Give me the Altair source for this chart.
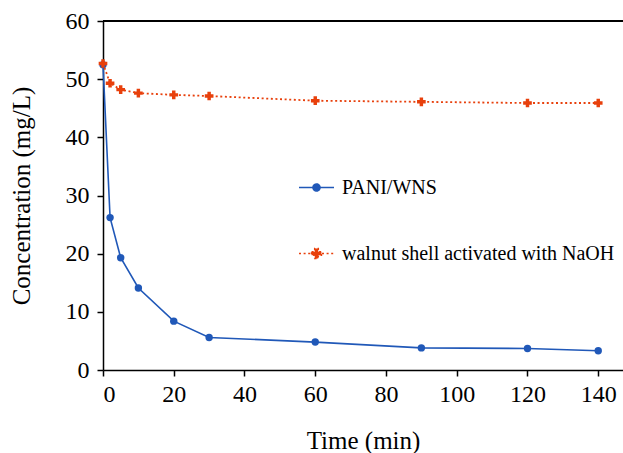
import altair as alt
import pandas as pd

time_pani = [0, 2, 5, 10, 20, 30, 60, 90, 120, 140]
conc_pani = [52.5, 26.2, 19.3, 14.1, 8.4, 5.6, 4.8, 3.8, 3.7, 3.3]
time_wns = [0, 2, 5, 10, 20, 30, 60, 90, 120, 140]
conc_wns = [52.7, 49.3, 48.2, 47.6, 47.3, 47.1, 46.3, 46.1, 45.9, 45.9]
series_names = ["PANI/WNS", "walnut shell activated with NaOH"]
series_colors = ["#2058B8", "#E8400C"]
x_ticks = [0, 20, 40, 60, 80, 100, 120, 140]
y_ticks = [0, 10, 20, 30, 40, 50, 60]

df_p = pd.DataFrame({"t": time_pani, "c": conc_pani, "s": series_names[0]})
df_w = pd.DataFrame({"t": time_wns, "c": conc_wns, "s": series_names[1]})

FONT = "Liberation Serif"
xs = alt.Scale(domain=[0, 147], nice=False)
ys = alt.Scale(domain=[0, 60], nice=False)

pani_path = "M-1,0L1,0M0.2,0A0.2,0.2,0,1,1,-0.2,0A0.2,0.2,0,1,1,0.2,0Z"
wns_path = ("M-1,0L1,0M-0.28,-0.1L-0.1,-0.1L-0.1,-0.28L0.1,-0.28L0.1,-0.1L0.28,-0.1"
            "L0.28,0.1L0.1,0.1L0.1,0.28L-0.1,0.28L-0.1,0.1L-0.28,0.1Z")


def mk_legend(i, path, dash, ly):
    return alt.Legend(
        title=None, orient="none", legendX=195, legendY=ly,
        labelFont=FONT, labelFontSize=20, labelColor="black", labelOffset=7,
        labelLimit=400,
        symbolSize=1225, symbolStrokeWidth=1.6, symbolType=path,
        symbolFillColor=series_colors[i], symbolStrokeColor=series_colors[i],
        symbolDash=dash, symbolOpacity=1,
    )


x_enc = alt.X("t:Q", scale=xs, title="Time (min)",
              axis=alt.Axis(values=x_ticks, grid=False, tickSize=6, labelPadding=6,
                            titlePadding=22))
y_enc = alt.Y("c:Q", scale=ys, title="Concentration (mg/L)",
              axis=alt.Axis(values=y_ticks, grid=False, tickSize=6, labelPadding=8,
                            titlePadding=31))

pani_line = alt.Chart(df_p).mark_line(strokeWidth=1.6).encode(
    x=x_enc, y=y_enc,
    color=alt.Color("s:N", scale=alt.Scale(domain=[series_names[0]], range=[series_colors[0]]),
                    legend=mk_legend(0, pani_path, [1, 0], 148)),
)
pani_pts = alt.Chart(df_p).mark_point(filled=True, opacity=1, shape="circle", size=55,
                                      color=series_colors[0]).encode(
    x=alt.X("t:Q", scale=xs), y=alt.Y("c:Q", scale=ys))

wns_line = alt.Chart(df_w).mark_line(strokeWidth=1.8, strokeDash=[2, 2.6]).encode(
    x=alt.X("t:Q", scale=xs), y=alt.Y("c:Q", scale=ys),
    stroke=alt.Stroke("s:N", scale=alt.Scale(domain=[series_names[1]], range=[series_colors[1]]),
                      legend=mk_legend(1, wns_path, [2, 2.6], 214)),
)
wns_pts = alt.Chart(df_w).mark_point(filled=True, opacity=1, shape="cross", size=75,
                                     color=series_colors[1]).encode(
    x=alt.X("t:Q", scale=xs), y=alt.Y("c:Q", scale=ys))

top = alt.Chart(df_p).mark_rule(color="black", strokeWidth=1.5).encode(y=alt.datum(60, scale=ys))

chart = alt.layer(pani_line, pani_pts, wns_line, wns_pts, top).properties(
    width=520, height=349,
    autosize=alt.AutoSizeParams(type="none"),
    padding={"left": 103, "top": 21, "right": 0, "bottom": 83},
).configure(font=FONT).configure_view(stroke=None).configure_axis(
    domainColor="black", domainWidth=1.5, tickColor="black", tickWidth=1.5,
    labelFont=FONT, labelFontSize=24, labelColor="black",
    titleFont=FONT, titleFontSize=25, titleColor="black", titleFontWeight="normal",
)

chart.save("out.html", embed_options={"renderer": "svg", "actions": False})
